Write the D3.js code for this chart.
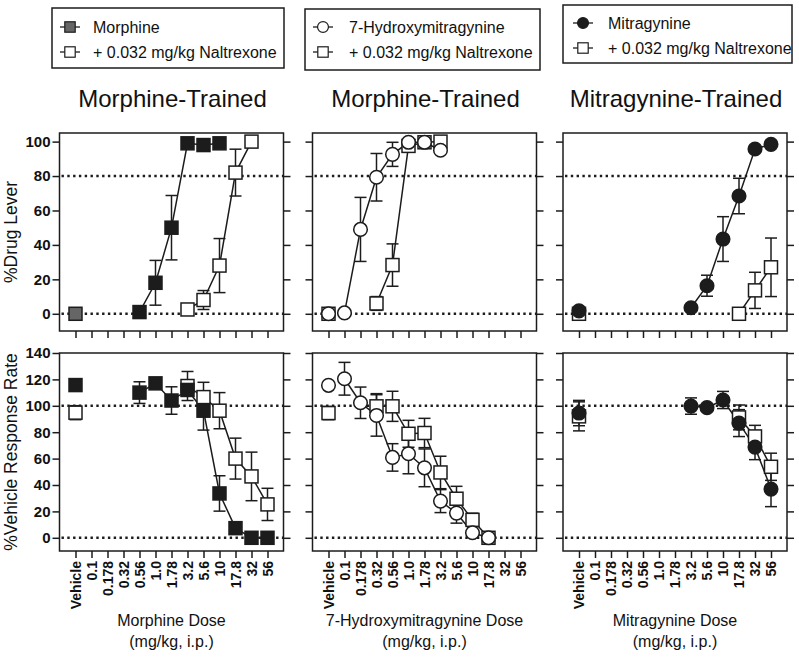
<!DOCTYPE html>
<html><head><meta charset="utf-8">
<script src="https://cdn.jsdelivr.net/npm/d3@7"></script>
<style>body{margin:0;background:#fff}svg{display:block}</style>
</head><body>
<script>
// ---------- data ----------
const doses = ["Vehicle","0.1","0.178","0.32","0.56","1.0","1.78","3.2","5.6","10","17.8","32","56"];
const titles = ["Morphine-Trained","Morphine-Trained","Mitragynine-Trained"];
const xTitles = ["Morphine Dose","7-Hydroxymitragynine Dose","Mitragynine Dose"];
const xSub = "(mg/kg, i.p.)";
const legendDrug = ["Morphine","7-Hydroxymitragynine","Mitragynine"];
const legendNal = "+ 0.032 mg/kg Naltrexone";
const yTitles = ["%Drug Lever","%Vehicle Response Rate"];
const yTicksTop = [0,20,40,60,80,100];
const yTicksBot = [0,20,40,60,80,100,120,140];

// %Drug lever (top row)            Veh  0.1  .178 .32  .56  1.0  1.78 3.2  5.6  10   17.8 32   56
const morDL       = [0,   null,null,null,1,   18,  50,  99,  98,  99,  null,null,null];
const morDLerr    = [0,   null,null,null,0,   13,  18.7,0,   0,   0,   null,null,null];
const morNalDL    = [null,null,null,null,null,null,null,2.5, 8,   28,  82,  100, null];
const morNalDLerr = [null,null,null,null,null,null,null,0,   5.5, 15.7,13.6,0,   null];
const ohDL        = [0,   0.5, 49,  79.3,92.6,99.6,99.6,95,  null,null,null,null,null];
const ohDLerr     = [0,   0,   18.6,13.8,7,   0,   0,   0,   null,null,null,null,null];
const ohNalDL     = [0,   null,null,6,   28.3,97.5,99.6,100, null,null,null,null,null];
const ohNalDLerr  = [0,   null,null,4,   12.3,0,   0,   0,   null,null,null,null,null];
const mgDL        = [1.7, null,null,null,null,null,null,3.5, 16.3,43.4,68.4,95.7,98.4];
const mgDLerr     = [0,   null,null,null,null,null,null,0,   6.1, 13,  10.3,0,   0];
const mgNalDL     = [0,   null,null,null,null,null,null,null,null,null,0,   13.6,27];
const mgNalDLerr  = [0,   null,null,null,null,null,null,null,null,null,0,   10.5,17];

// %Vehicle response rate (bottom row)
const morRR       = [115.7,null,null,null,110, 117, 104, 112, 96.3,33.6,7.3, 0,   0];
const morRRerr    = [0,    null,null,null,8.2, 0,   10.4,4,   14.7,13.4,0,   0,   0];
const morNalRR    = [94.8, null,null,null,null,null,null,115, 106.6,96.3,60, 46.5,25.3];
const morNalRRerr = [5.3,  null,null,null,null,null,null,11,  11.2,13.7,15.5,18.4,12.2];
const ohRR        = [115.5,120.5,102.3,92.7,60.9,63.7,53,27.8,18.7,3.8, 0,   null,null];
const ohRRerr     = [0,    12.4,11.9,15.7,10.4,15.2,14.3,8.7, 7.6, 0,   0,   null,null];
const ohNalRR     = [94.5, null,null,99.6,99.6,78.8,79.4,49.5,29.6,13.6,0,   null,null];
const ohNalRRerr  = [5,    null,null,9.6, 11.4,10.2,11.1,12.3,9.4, 5,   0,   null,null];
const mgRR        = [94.5, null,null,null,null,null,null,99.8,98.6,104.4,86.9,68.7,36.9];
const mgRRerr     = [9.6,  null,null,null,null,null,null,6.2, 0,   6.5, 10.2,9.5, 13.3];
const mgNalRR     = [92,   null,null,null,null,null,null,null,null,null,91.2,76.8,53.8];
const mgNalRRerr  = [11,   null,null,null,null,null,null,null,null,null,9.4, 8.4, 10.3];

// ---------- layout ----------
const W = 799, H = 657;
const FONT = "'Liberation Sans', Arial, Helvetica, sans-serif";
const panelX = [59.5, 312.5, 563];
const panelW = 224;
const rowY = [133, 353];
const panelH = 198;
const DARK = "#1c1c1c";

const svg = d3.select("body").append("svg").attr("width", W).attr("height", H)
  .style("font-family", FONT);

const x = d3.scalePoint().domain(doses).range([0, panelW]).padding(1);
const yTop = d3.scaleLinear().domain([-10, 105]).range([panelH, 0]);
const yBot = d3.scaleLinear().domain([-10, 140]).range([panelH, 0]);

const panels = [
  {top:[{v:morNalDL,e:morNalDLerr,shape:"square",fill:"#fff"},{v:morDL,e:morDLerr,shape:"square",fill:DARK,vehFill:"#666"}],
   bot:[{v:morNalRR,e:morNalRRerr,shape:"square",fill:"#fff"},{v:morRR,e:morRRerr,shape:"square",fill:DARK}],
   leg:{shape:"square",fill:"#666"}},
  {top:[{v:ohNalDL,e:ohNalDLerr,shape:"square",fill:"#fff"},{v:ohDL,e:ohDLerr,shape:"circle",fill:"#fff"}],
   bot:[{v:ohNalRR,e:ohNalRRerr,shape:"square",fill:"#fff"},{v:ohRR,e:ohRRerr,shape:"circle",fill:"#fff"}],
   leg:{shape:"circle",fill:"#fff"}},
  {top:[{v:mgNalDL,e:mgNalDLerr,shape:"square",fill:"#fff"},{v:mgDL,e:mgDLerr,shape:"circle",fill:DARK}],
   bot:[{v:mgNalRR,e:mgNalRRerr,shape:"square",fill:"#fff"},{v:mgRR,e:mgRRerr,shape:"circle",fill:DARK}],
   leg:{shape:"circle",fill:DARK}}
];

function marker(g, shape, fill, cx, cy) {
  if (shape === "square") {
    g.append("rect").attr("x", cx - 6.5).attr("y", cy - 6.5).attr("width", 13).attr("height", 13)
      .attr("fill", fill).attr("stroke", DARK).attr("stroke-width", 1.5);
  } else {
    g.append("circle").attr("cx", cx).attr("cy", cy).attr("r", 6.8)
      .attr("fill", fill).attr("stroke", DARK).attr("stroke-width", 1.5);
  }
}

function drawPanel(pi, row) {
  const y = row === 0 ? yTop : yBot;
  const g = svg.append("g").attr("transform", `translate(${panelX[pi]},${rowY[row]})`);
  const refs = row === 0 ? [0, 80] : [0, 100];
  refs.forEach(r => g.append("line").attr("x1", 2).attr("x2", panelW).attr("y1", y(r)).attr("y2", y(r))
    .attr("stroke", DARK).attr("stroke-width", 2.6).attr("stroke-dasharray", "2.4,3.4"));

  const ticks = row === 0 ? yTicksTop : yTicksBot;
  const left = g.append("g").call(d3.axisLeft(y).tickValues(ticks).tickSize(7).tickPadding(2)
      .tickFormat(pi === 0 ? d3.format("d") : () => ""));
  const right = g.append("g").attr("transform", `translate(${panelW},0)`)
      .call(d3.axisRight(y).tickValues(ticks).tickSize(7).tickFormat(() => ""));
  [left, right].forEach(a => {
    a.select(".domain").remove();
    a.selectAll("line").attr("stroke", DARK).attr("stroke-width", 1.5);
    a.selectAll("text").attr("font-size", 15).attr("font-weight", "bold").attr("fill", "#111")
      .attr("font-family", FONT);
  });
  const bottom = g.append("g").attr("transform", `translate(0,${panelH})`)
    .call(d3.axisBottom(x).tickSize(7).tickFormat(row === 1 ? (d => d) : () => ""));
  bottom.select(".domain").remove();
  bottom.selectAll("line").attr("stroke", DARK).attr("stroke-width", 1.5);
  bottom.selectAll("text").attr("font-size", 14).attr("font-weight", "bold").attr("fill", "#111")
    .attr("font-family", FONT)
    .attr("text-anchor", "end").attr("transform", "rotate(-90)")
    .attr("x", -10).attr("y", 0).attr("dy", "0.35em");

  g.append("rect").attr("width", panelW).attr("height", panelH)
    .attr("fill", "none").attr("stroke", DARK).attr("stroke-width", 1.5);

  const series = row === 0 ? panels[pi].top : panels[pi].bot;
  const pts = s => s.v.map((v, i) => ({i, v, e: s.e[i]})).filter(d => d.v !== null);
  series.forEach(s => {
    const p = pts(s).filter(d => d.i > 0);
    g.append("path").datum(p)
      .attr("d", d3.line().x(d => x(doses[d.i])).y(d => y(d.v)))
      .attr("fill", "none").attr("stroke", DARK).attr("stroke-width", 1.5);
  });
  series.forEach(s => {
    pts(s).filter(d => d.e > 0).forEach(d => {
      const cx = x(doses[d.i]);
      const eg = g.append("g").attr("stroke", DARK).attr("stroke-width", 1.5);
      eg.append("line").attr("x1", cx).attr("x2", cx).attr("y1", y(d.v - d.e)).attr("y2", y(d.v + d.e));
      [d.v - d.e, d.v + d.e].forEach(val => eg.append("line")
        .attr("x1", cx - 6).attr("x2", cx + 6).attr("y1", y(val)).attr("y2", y(val)));
    });
  });
  series.forEach(s => {
    pts(s).forEach(d => {
      const f = (d.i === 0 && s.vehFill) ? s.vehFill : s.fill;
      marker(g, s.shape, f, x(doses[d.i]), y(d.v));
    });
  });
}

for (let pi = 0; pi < 3; pi++) {
  drawPanel(pi, 0);
  drawPanel(pi, 1);
  const cx = panelX[pi] + panelW / 2;
  svg.append("text").attr("x", cx + 1).attr("y", 107).attr("text-anchor", "middle")
    .attr("font-size", 24).attr("fill", "#111").text(titles[pi]);
  svg.append("text").attr("x", cx).attr("y", 626).attr("text-anchor", "middle")
    .attr("font-size", 16).attr("fill", "#111").text(xTitles[pi]);
  svg.append("text").attr("x", cx).attr("y", 647).attr("text-anchor", "middle")
    .attr("font-size", 16).attr("fill", "#111").text(xSub);
}

yTitles.forEach((t, r) => {
  svg.append("text").attr("transform", `translate(17,${rowY[r] + panelH / 2}) rotate(-90)`)
    .attr("text-anchor", "middle").attr("font-size", 17.5).attr("fill", "#111").text(t);
});

const legBoxes = [
  {x: 52, y: 8, w: 232, h: 60, sx: 70, tx: 93, r1: 27, r2: 52},
  {x: 305, y: 9, w: 235, h: 61, sx: 323, tx: 349, r1: 27, r2: 52},
  {x: 563, y: 5, w: 229, h: 58, sx: 583, tx: 608, r1: 23, r2: 48}
];
legBoxes.forEach((b, pi) => {
  const g = svg.append("g");
  g.append("rect").attr("x", b.x).attr("y", b.y).attr("width", b.w).attr("height", b.h)
    .attr("fill", "#fff").attr("stroke", DARK).attr("stroke-width", 1.5);
  [[b.r1, panels[pi].leg.shape, panels[pi].leg.fill, legendDrug[pi]],
   [b.r2, "square", "#fff", legendNal]].forEach(([ry, sh, f, txt]) => {
    g.append("line").attr("x1", b.sx - 10).attr("x2", b.sx + 10).attr("y1", ry).attr("y2", ry)
      .attr("stroke", DARK).attr("stroke-width", 1.3);
    const mg = g.append("g").attr("transform", `translate(${b.sx},${ry}) scale(0.8) translate(${-b.sx},${-ry})`);
    marker(mg, sh, f, b.sx, ry);
    g.append("text").attr("x", b.tx).attr("y", ry + 5.5).attr("font-size", 16).attr("fill", "#111").text(txt);
  });
});
</script>
</body></html>
